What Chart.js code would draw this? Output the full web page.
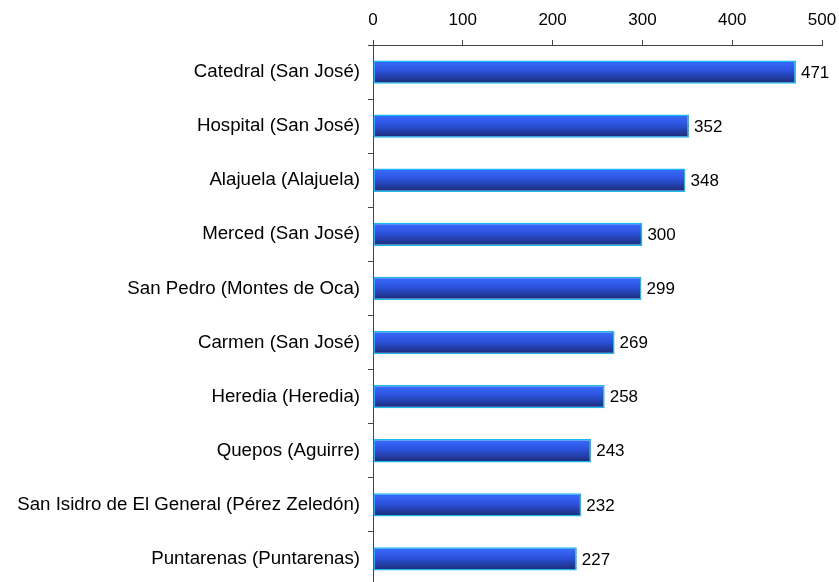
<!DOCTYPE html>
<html>
<head>
<meta charset="utf-8">
<script src="https://cdn.jsdelivr.net/npm/chart.js@4/dist/chart.umd.min.js"></script>
<style>
html,body{margin:0;padding:0;background:#fff;overflow:hidden;}
#wrap{width:839px;height:582px;position:relative;overflow:hidden;}
canvas{display:block;}
</style>
</head>
<body>
<div id="wrap"><canvas id="c" width="839" height="586"></canvas></div>
<script>
const categories = [
  "Catedral (San José)",
  "Hospital (San José)",
  "Alajuela (Alajuela)",
  "Merced (San José)",
  "San Pedro (Montes de Oca)",
  "Carmen (San José)",
  "Heredia (Heredia)",
  "Quepos (Aguirre)",
  "San Isidro de El General (Pérez Zeledón)",
  "Puntarenas (Puntarenas)"
];
const values = [471, 352, 348, 300, 299, 269, 258, 243, 232, 227];
const xTicks = [0, 100, 200, 300, 400, 500];

const FONT = "Liberation Sans, Arial, sans-serif";
const BAR_T = 23;

function barGradient(ctx) {
  const chart = ctx.chart;
  const y = chart.scales && chart.scales.y;
  if (!y || !chart.chartArea || ctx.dataIndex === undefined) return '#2c52dc';
  const c = y.getPixelForValue(ctx.dataIndex);
  if (!isFinite(c)) return '#2c52dc';
  const g = chart.ctx.createLinearGradient(0, c - BAR_T / 2, 0, c + BAR_T / 2);
  g.addColorStop(0, '#3a6cff');
  g.addColorStop(0.45, '#2c52dc');
  g.addColorStop(1, '#1a2a72');
  return g;
}

const valueLabels = {
  id: 'valueLabels',
  afterDatasetsDraw(chart) {
    const ctx = chart.ctx;
    const meta = chart.getDatasetMeta(0);
    ctx.save();
    ctx.font = "17px " + FONT;
    ctx.fillStyle = '#000';
    ctx.textAlign = 'left';
    ctx.textBaseline = 'middle';
    meta.data.forEach((bar, i) => {
      ctx.fillText(String(values[i]), bar.x + 5, bar.y + 1);
    });
    ctx.restore();
  }
};

new Chart(document.getElementById('c'), {
  type: 'bar',
  data: {
    labels: categories,
    datasets: [{
      data: values,
      backgroundColor: barGradient,
      borderColor: '#1ab8f0',
      borderWidth: 1.5,
      borderSkipped: false,
      barPercentage: 0.43,
      categoryPercentage: 1.0
    }]
  },
  options: {
    indexAxis: 'y',
    responsive: false,
    animation: false,
    layout: { padding: { left: 0, right: 17, top: 0, bottom: 0 } },
    plugins: {
      legend: { display: false },
      tooltip: { enabled: false }
    },
    scales: {
      x: {
        position: 'top',
        min: 0,
        max: 500,
        afterBuildTicks(scale) { scale.ticks = xTicks.map(v => ({ value: v })); },
        afterFit(scale) {
          scale.height = 45;
          scale.paddingLeft = 0; scale.paddingRight = 0;
        },
        ticks: {
          color: '#000',
          font: { family: FONT, size: 17 },
          padding: 9,
          maxRotation: 0
        },
        grid: { drawOnChartArea: false, tickLength: 5, color: '#444', lineWidth: 1 },
        border: { color: '#444', width: 1 }
      },
      y: {
        afterFit(scale) {
          scale.width = 373;
          scale.paddingTop = 0; scale.paddingBottom = 0;
        },
        ticks: {
          color: '#000',
          font: { family: FONT, size: 18.7 },
          padding: 8,
          autoSkip: false
        },
        grid: { drawOnChartArea: false, tickLength: 5, color: '#444', lineWidth: 1, offset: true },
        border: { color: '#444', width: 1 }
      }
    }
  },
  plugins: [valueLabels]
});
</script>
</body>
</html>
